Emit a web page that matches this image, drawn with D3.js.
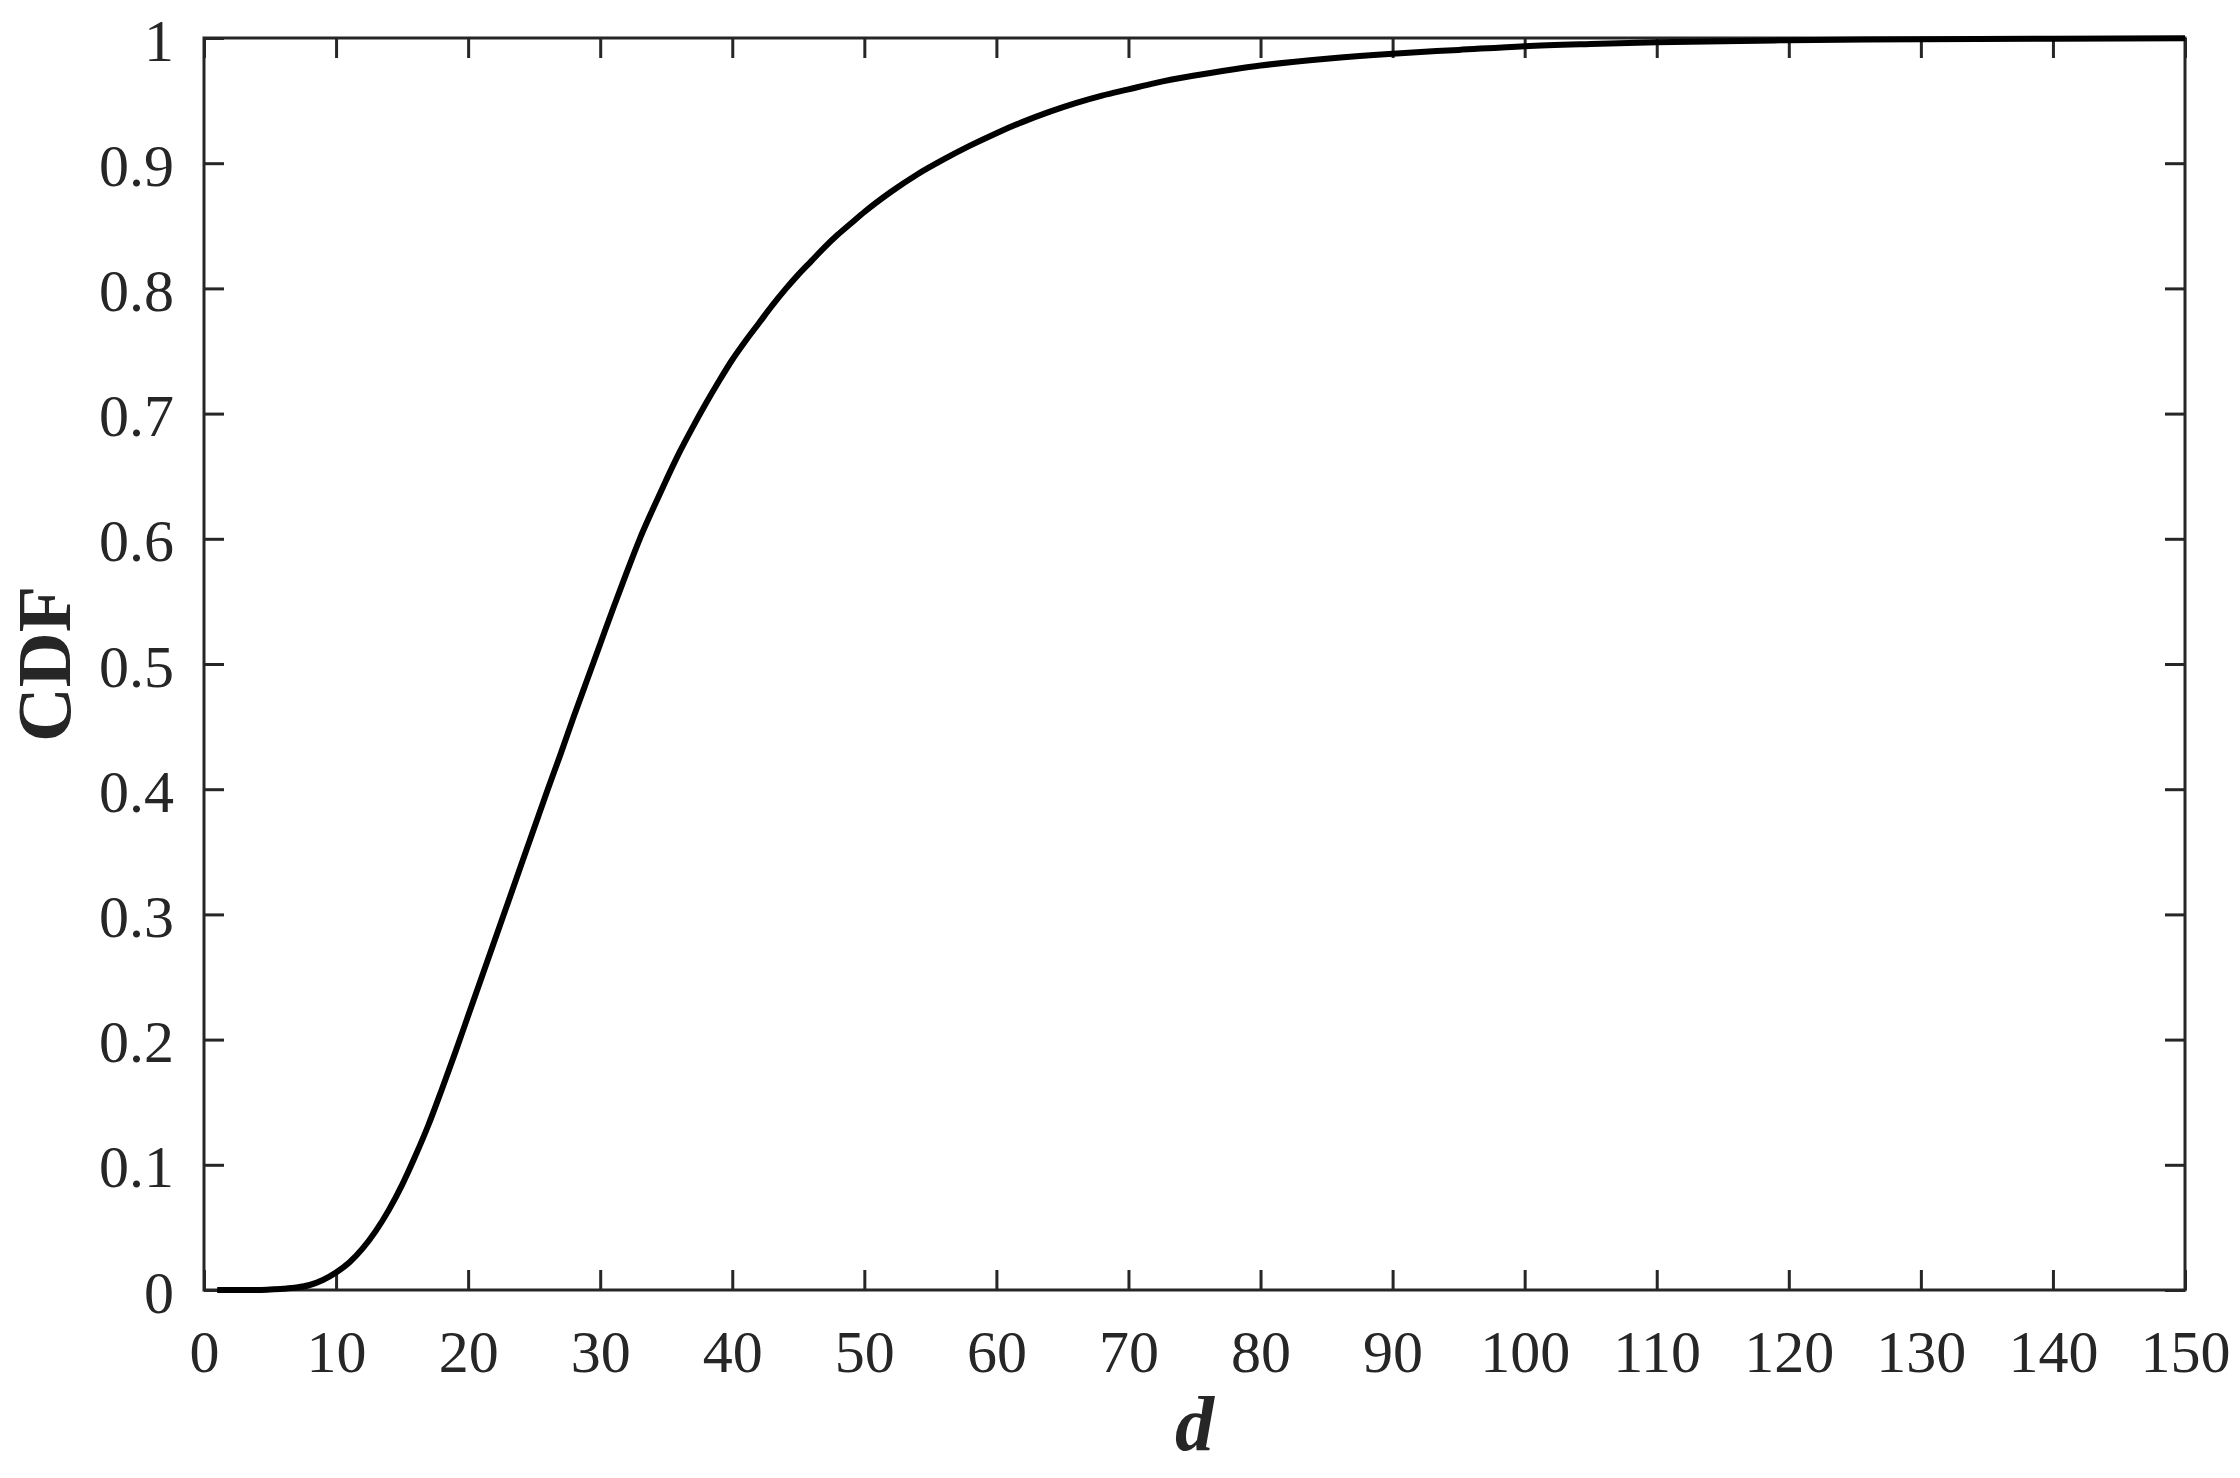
<!DOCTYPE html>
<html>
<head>
<meta charset="utf-8">
<script src="https://cdn.jsdelivr.net/npm/d3@7"></script>
<style>
  html, body { margin: 0; padding: 0; background: #fff; }
  svg { display: block; }
</style>
</head>
<body>
<svg id="chart" width="2240" height="1478"></svg>
<script>
// ---- data ----
const dValues = [1,2,3,4,5,6,7,8,9,10,11,12,13,14,15,16,17,18,19,20,
  21,22,23,24,25,26,27,28,29,30,31,32,33,34,35,36,37,38,39,40,
  41,42,43,44,45,46,47,48,49,50,52,54,56,58,60,62,64,66,68,70,
  72,75,78,80,85,90,95,100,105,110,120,130,140,150];
const cdfValues = [0,0,0,0,0.0004,0.001,0.002,0.004,0.008,0.014,0.022,0.033,0.047,0.064,0.084,0.107,0.132,0.160,0.189,0.219,
  0.249,0.279,0.309,0.339,0.369,0.399,0.428,0.458,0.487,0.516,0.545,0.573,0.600,0.624,0.647,0.669,0.689,0.708,0.726,0.743,
  0.758,0.772,0.786,0.799,0.811,0.822,0.833,0.843,0.852,0.861,0.877,0.891,0.903,0.914,0.924,0.933,0.941,0.948,0.954,0.959,
  0.964,0.970,0.975,0.978,0.9835,0.9875,0.9905,0.9935,0.9953,0.9967,0.9982,0.9990,0.9995,0.9998];
const xTicks = [0,10,20,30,40,50,60,70,80,90,100,110,120,130,140,150];
const yTicks = [0,0.1,0.2,0.3,0.4,0.5,0.6,0.7,0.8,0.9,1];
const yTickLabels = ["0","0.1","0.2","0.3","0.4","0.5","0.6","0.7","0.8","0.9","1"];
const xLabel = "d";
const yLabel = "CDF";

// ---- layout ----
const svg = d3.select("#chart");
const L = 204, R = 2185, T = 38, B = 1290;
const axisColor = "#262626";
const font = "'Liberation Serif', 'Times New Roman', serif";

const x = d3.scaleLinear().domain([0,150]).range([L,R]);
const y = d3.scaleLinear().domain([0,1]).range([B,T]);

const tickLen = 20;

// bottom axis (ticks inward + labels)
const gB = svg.append("g").attr("transform",`translate(0,${B})`)
  .call(d3.axisBottom(x).tickValues(xTicks).tickSizeInner(-tickLen).tickSizeOuter(0).tickFormat(d3.format("d")));
// left axis
const gL = svg.append("g").attr("transform",`translate(${L},0)`)
  .call(d3.axisLeft(y).tickValues(yTicks).tickSizeInner(-tickLen).tickSizeOuter(0)
    .tickFormat((d,i)=>yTickLabels[i]));
// top axis (ticks only)
const gT = svg.append("g").attr("transform",`translate(0,${T})`)
  .call(d3.axisTop(x).tickValues(xTicks).tickSizeInner(-tickLen).tickSizeOuter(0).tickFormat(""));
// right axis (ticks only)
const gR = svg.append("g").attr("transform",`translate(${R},0)`)
  .call(d3.axisRight(y).tickValues(yTicks).tickSizeInner(-tickLen).tickSizeOuter(0).tickFormat(""));

[gB,gL,gT,gR].forEach(g=>{
  g.select(".domain").remove();
  g.selectAll(".tick line").attr("stroke",axisColor).attr("stroke-width",3);
});

gB.selectAll(".tick text")
  .attr("y",82).attr("dy",0)
  .attr("fill",axisColor)
  .style("font-family",font).style("font-size","60px");
gL.selectAll(".tick text")
  .attr("x",-30).attr("dy","22px")
  .attr("fill",axisColor)
  .style("font-family",font).style("font-size","60px");

// frame
svg.append("rect")
  .attr("x",L).attr("y",T).attr("width",R-L).attr("height",B-T)
  .attr("fill","none").attr("stroke",axisColor).attr("stroke-width",3);

// curve
const pts = dValues.map((d,i)=>[d,cdfValues[i]]);
const line = d3.line().x(p=>x(p[0])).y(p=>y(p[1])).curve(d3.curveMonotoneX);
svg.append("path")
  .datum(pts)
  .attr("d",line)
  .attr("fill","none")
  .attr("stroke","#000")
  .attr("stroke-width",6)
  .attr("stroke-linejoin","round");

// axis titles
svg.append("text")
  .attr("x",(L+R)/2).attr("y",1450)
  .attr("text-anchor","middle")
  .attr("fill",axisColor)
  .style("font-family",font).style("font-size","78px")
  .style("font-weight","bold").style("font-style","italic")
  .text(xLabel);

svg.append("text")
  .attr("transform",`translate(70,${(T+B)/2}) rotate(-90)`)
  .attr("text-anchor","middle")
  .attr("fill",axisColor)
  .style("font-family",font).style("font-size","76px")
  .style("font-weight","bold")
  .text(yLabel);
</script>
</body>
</html>
